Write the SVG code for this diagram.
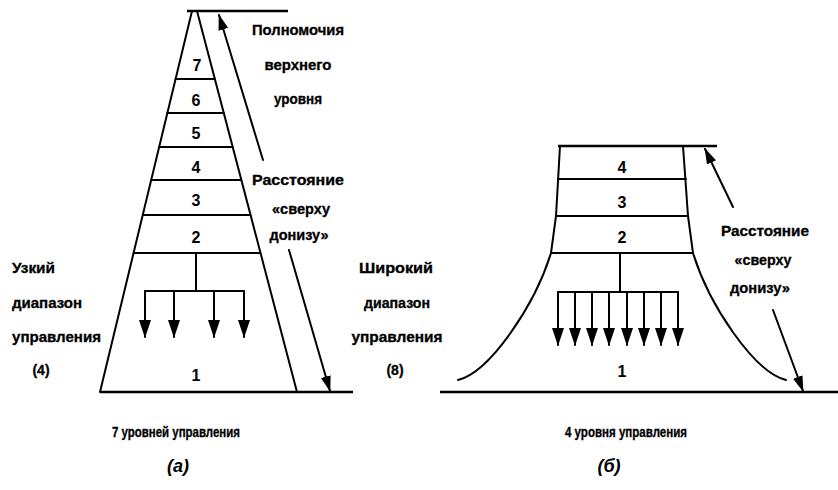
<svg xmlns="http://www.w3.org/2000/svg" width="838" height="490" viewBox="0 0 838 490">
<defs>
<style>
.ln{stroke:#000;stroke-width:2;fill:none;stroke-linecap:round;stroke-linejoin:round}
.tk{stroke:#000;stroke-width:2.6;fill:none}
.t{font-family:"Liberation Sans",Arial,sans-serif;font-weight:bold;font-size:14px;fill:#000;stroke:#000;stroke-width:0.3}
.c{text-anchor:middle}
.n{font-family:"Liberation Sans",Arial,sans-serif;font-weight:bold;font-size:16px;fill:#000;text-anchor:middle}
.cap{font-family:"Liberation Sans",Arial,sans-serif;font-weight:bold;font-style:italic;font-size:18px;fill:#000;text-anchor:middle}
</style>
<marker id="ah" markerUnits="userSpaceOnUse" markerWidth="16" markerHeight="10" refX="15" refY="5" orient="auto">
<path d="M0,0 L16,5 L0,10 z" fill="#000"/>
</marker>
<marker id="th" markerUnits="userSpaceOnUse" markerWidth="18" markerHeight="12" refX="17" refY="6" orient="auto">
<path d="M0,0 L18,6 L0,12 z" fill="#000"/>
</marker>
</defs>
<rect width="838" height="490" fill="#fff"/>

<g id="pyramid-a">
<line class="tk" x1="187" y1="11" x2="288" y2="11"/>
<line class="ln" x1="192" y1="11" x2="100" y2="392"/>
<line class="ln" x1="197" y1="11" x2="297" y2="392"/>
<line class="tk" x1="100" y1="392" x2="353" y2="392"/>
<line class="ln" x1="175.6" y1="79" x2="214.8" y2="79"/>
<line class="ln" x1="167.4" y1="113" x2="223.7" y2="113"/>
<line class="ln" x1="159.2" y1="147" x2="232.6" y2="147"/>
<line class="ln" x1="151.3" y1="180" x2="241.2" y2="180"/>
<line class="ln" x1="142.9" y1="215" x2="250.4" y2="215"/>
<line class="ln" x1="133.7" y1="253" x2="260.4" y2="253"/>
<text class="n" x="197" y="71">7</text>
<text class="n" x="196" y="106">6</text>
<text class="n" x="196" y="139">5</text>
<text class="n" x="196" y="173">4</text>
<text class="n" x="196" y="206">3</text>
<text class="n" x="196" y="243">2</text>
<text class="n" x="196" y="381">1</text>
</g>

<g id="pyramid-b">
<line class="tk" x1="558" y1="146" x2="717" y2="146"/>
<path class="ln" d="M560,146 L556,216 L551,253 C535,305 490,372 458,380"/>
<path class="ln" d="M683,146 L688,216 L693,253 C709,305 754,372 786,380"/>
<line class="tk" x1="440" y1="392" x2="838" y2="392"/>
<line class="ln" x1="558" y1="179" x2="686" y2="179"/>
<line class="ln" x1="556" y1="216" x2="688" y2="216"/>
<line class="ln" x1="551" y1="253" x2="693" y2="253"/>
<text class="n" x="622" y="173">4</text>
<text class="n" x="622" y="208">3</text>
<text class="n" x="622" y="243">2</text>
<text class="n" x="622" y="377">1</text>
</g>

<g id="connectors">
<line class="ln" x1="196" y1="253" x2="196" y2="291"/>
<line class="ln" x1="145" y1="291" x2="244" y2="291"/>
<line class="ln" x1="145" y1="291" x2="145" y2="337" marker-end="url(#th)"/>
<line class="ln" x1="174" y1="291" x2="174" y2="337" marker-end="url(#th)"/>
<line class="ln" x1="214" y1="291" x2="214" y2="337" marker-end="url(#th)"/>
<line class="ln" x1="244" y1="291" x2="244" y2="337" marker-end="url(#th)"/>
<line class="ln" x1="620" y1="253" x2="620" y2="292"/>
<line class="ln" x1="558" y1="292" x2="678" y2="292"/>
<line class="ln" x1="558" y1="292" x2="558" y2="345" marker-end="url(#th)"/>
<line class="ln" x1="575" y1="292" x2="575" y2="345" marker-end="url(#th)"/>
<line class="ln" x1="592" y1="292" x2="592" y2="345" marker-end="url(#th)"/>
<line class="ln" x1="609" y1="292" x2="609" y2="345" marker-end="url(#th)"/>
<line class="ln" x1="627" y1="292" x2="627" y2="345" marker-end="url(#th)"/>
<line class="ln" x1="644" y1="292" x2="644" y2="345" marker-end="url(#th)"/>
<line class="ln" x1="661" y1="292" x2="661" y2="345" marker-end="url(#th)"/>
<line class="ln" x1="678" y1="292" x2="678" y2="345" marker-end="url(#th)"/>
<line class="ln" x1="263" y1="160" x2="219" y2="15" marker-end="url(#ah)"/>
<line class="ln" x1="289" y1="250" x2="330" y2="391" marker-end="url(#ah)"/>
<line class="ln" x1="733" y1="207" x2="705" y2="149" marker-end="url(#ah)"/>
<line class="ln" x1="773" y1="310" x2="803" y2="391" marker-end="url(#ah)"/>
</g>

<g id="labels-a">
<text class="t c" x="298" y="35" textLength="92" lengthAdjust="spacingAndGlyphs">Полномочия</text>
<text class="t c" x="298" y="70" textLength="67" lengthAdjust="spacingAndGlyphs">верхнего</text>
<text class="t c" x="298" y="104" textLength="48" lengthAdjust="spacingAndGlyphs">уровня</text>
<text class="t c" x="298" y="185" textLength="92" lengthAdjust="spacingAndGlyphs">Расстояние</text>
<text class="t c" x="301" y="214" textLength="58" lengthAdjust="spacingAndGlyphs">«сверху</text>
<text class="t c" x="299" y="240" textLength="59" lengthAdjust="spacingAndGlyphs">донизу»</text>
<text class="t" x="12" y="273" textLength="43" lengthAdjust="spacingAndGlyphs">Узкий</text>
<text class="t" x="12" y="308" textLength="70" lengthAdjust="spacingAndGlyphs">диапазон</text>
<text class="t" x="12" y="342" textLength="89" lengthAdjust="spacingAndGlyphs">управления</text>
<text class="t c" x="41" y="375">(4)</text>
<text class="t c" x="176" y="437" textLength="128" lengthAdjust="spacingAndGlyphs">7 уровней управления</text>
<text class="cap" x="178" y="472">(а)</text>
</g>

<g id="labels-b">
<text class="t c" x="396" y="273" textLength="74" lengthAdjust="spacingAndGlyphs">Широкий</text>
<text class="t c" x="397" y="308" textLength="66" lengthAdjust="spacingAndGlyphs">диапазон</text>
<text class="t c" x="397" y="342" textLength="91" lengthAdjust="spacingAndGlyphs">управления</text>
<text class="t c" x="395" y="375">(8)</text>
<text class="t c" x="765" y="236" textLength="88" lengthAdjust="spacingAndGlyphs">Расстояние</text>
<text class="t c" x="763" y="265" textLength="57" lengthAdjust="spacingAndGlyphs">«сверху</text>
<text class="t c" x="760" y="293" textLength="60" lengthAdjust="spacingAndGlyphs">донизу»</text>
<text class="t c" x="626" y="437" textLength="122" lengthAdjust="spacingAndGlyphs">4 уровня управления</text>
<text class="cap" x="609" y="472">(б)</text>
</g>
</svg>
